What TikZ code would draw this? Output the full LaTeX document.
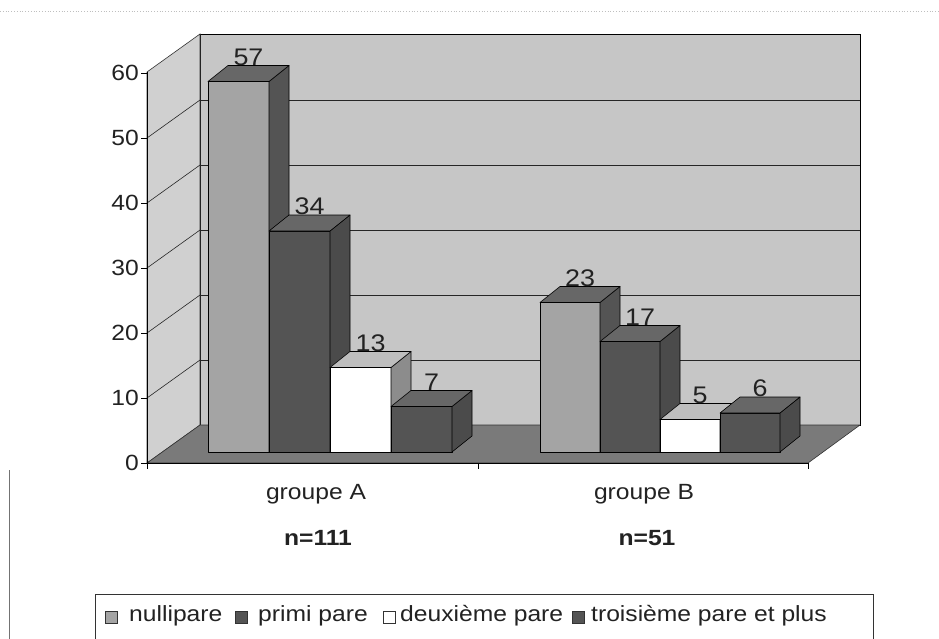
\documentclass[tikz,border=0pt]{standalone}
\usepackage{fontspec}
\setmainfont{Liberation Sans}[FakeStretch=1.12]
\definecolor{backwall}{HTML}{C6C6C6}
\definecolor{leftwall}{HTML}{D0D0D0}
\definecolor{floorcol}{HTML}{7A7A7A}
\definecolor{nullfront}{HTML}{A4A4A4}
\definecolor{darkfront}{HTML}{545454}
\definecolor{darkside}{HTML}{4B4B4B}
\definecolor{darktop}{HTML}{676767}
\definecolor{whitetop}{HTML}{BEBEBE}
\definecolor{whiteside}{HTML}{8C8C8C}
\definecolor{inkcol}{HTML}{222222}
\newcommand{\drawbar}[7]{% #1 name, #2 x left, #3 width, #4 value, #5 front, #6 side, #7 top
  \pgfmathsetmacro\bt{452-6.5*#4}
  \pgfmathsetmacro\xr{#2+#3}
  \filldraw[barline, fill=#5] (#2,452) rectangle (\xr,\bt);
  \filldraw[barline, fill=#6] (\xr,452) -- (\xr+20,436) -- (\xr+20,\bt-16) -- (\xr,\bt) -- cycle;
  \filldraw[barline, fill=#7] (#2,\bt) -- (\xr,\bt) -- (\xr+20,\bt-16) -- (#2+20,\bt-16) -- cycle;
  \node[vallabel] (#1) at (#2+0.5*#3+10,\bt-16) {#4};
}
\begin{document}
\begin{tikzpicture}[x=1pt,y=-1pt,
  txt/.style={font=\fontsize{22pt}{26pt}\selectfont, text=inkcol, inner sep=0pt},
  vallabel/.style={font=\fontsize{24pt}{28pt}\selectfont, text=inkcol, inner sep=0pt, anchor=south},
  barline/.style={draw=black, line width=0.6pt, line join=round},
  gridl/.style={draw=black!85, line width=0.6pt},
  legsym/.style={draw=black!80, line width=0.6pt}]
\useasboundingbox (0,0) rectangle (939,639);
\fill[white] (0,0) rectangle (939,639);
% scan artifacts
\draw[black!25, dotted, line width=0.8pt] (0,11) -- (939,11);
\draw[black!55, line width=0.6pt] (9,470) -- (9,639);
% walls
\filldraw[fill=backwall, draw=black, line width=0.8pt] (200,425) rectangle (860,34);
\filldraw[fill=leftwall, draw=black!80, line width=0.6pt] (147,463) -- (200,425) -- (200,34) -- (147,72) -- cycle;
\filldraw[fill=floorcol, draw=black!80, line width=0.6pt] (147,463) -- (808,463) -- (860,425) -- (200,425) -- cycle;
% grid
\foreach \v in {10,20,30,40,50} {
  \draw[gridl] (200,{425-6.5*\v}) -- (860,{425-6.5*\v});
  \draw[gridl] (147,{463-6.5*\v}) -- (200,{425-6.5*\v});
}
% axes
\draw[black, line width=0.8pt] (147,463) -- (147,72);
\draw[black, line width=0.8pt] (147,463) -- (808,463);
\foreach \v in {0,10,...,60} {
  \draw[black, line width=0.6pt] (141,{463-6.5*\v}) -- (147,{463-6.5*\v});
  \node[txt, anchor=east] (y\v) at (139,{463-6.5*\v}) {\v};
}
\foreach \xx in {147,478,808} \draw[black, line width=0.6pt] (\xx,463) -- (\xx,469);
% bars group A
\drawbar{a1}{208}{61}{57}{nullfront}{darkfront}{darktop}
\drawbar{a2}{269}{61}{34}{darkfront}{darkside}{darktop}
\drawbar{a3}{330}{61}{13}{white}{whiteside}{whitetop}
\drawbar{a4}{391}{61}{7}{darkfront}{darkside}{darktop}
% bars group B
\drawbar{b1}{540}{60}{23}{nullfront}{darkfront}{darktop}
\drawbar{b2}{600}{60}{17}{darkfront}{darkside}{darktop}
\drawbar{b3}{660}{60}{5}{white}{whiteside}{whitetop}
\drawbar{b4}{720}{60}{6}{darkfront}{darkside}{darktop}
% category labels
\node[txt, anchor=base] (ga) at (316,499) {groupe A};
\node[txt, anchor=base] (na) at (318,545) {\bfseries n=111};
\node[txt, anchor=base] (gb) at (644,499) {groupe B};
\node[txt, anchor=base] (nb) at (647,545) {\bfseries n=51};
% legend
\draw[black!80, line width=0.8pt] (95,645) -- (95,594) -- (873,594) -- (873,645);
\filldraw[legsym, fill=nullfront] (105,611) rectangle (117,623);
\node[txt, anchor=base west] (l1) at (129,621) {nullipare};
\filldraw[legsym, fill=darkfront] (235,611) rectangle (247,623);
\node[txt, anchor=base west] (l2) at (258,621) {primi pare};
\filldraw[legsym, fill=white] (383,611) rectangle (395,623);
\node[txt, anchor=base west] (l3) at (400,621) {deuxième pare};
\filldraw[legsym, fill=darkfront] (572,611) rectangle (584,623);
\node[txt, anchor=base west] (l4) at (591,621) {troisième pare et plus};
\end{tikzpicture}
\end{document}
